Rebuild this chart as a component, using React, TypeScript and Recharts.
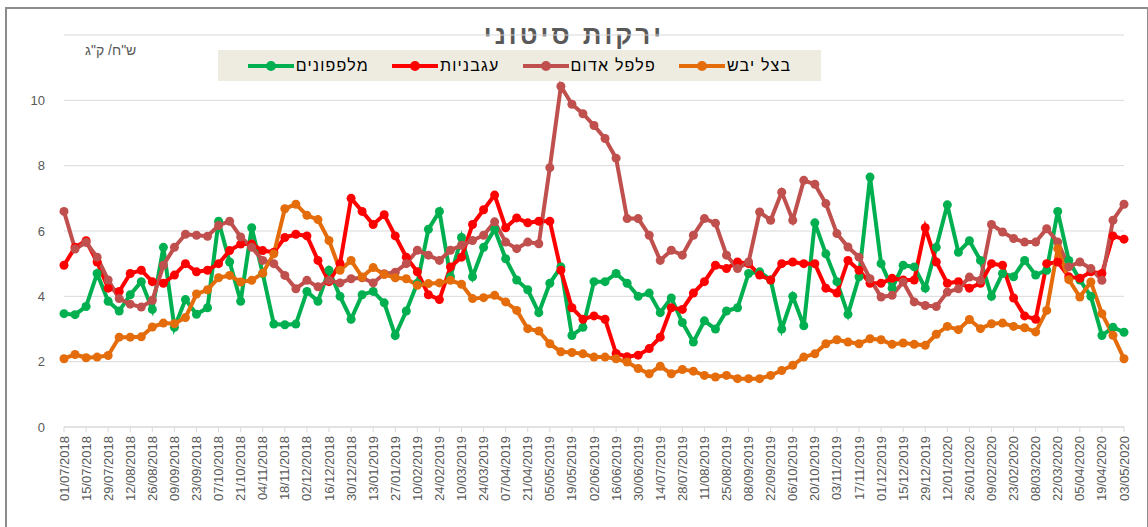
import { LineChart, Line, XAxis, YAxis, CartesianGrid } from 'recharts';

// weekly wholesale prices, NIS per kg
const weeks = [
  '01/07/2018', '08/07/2018', '15/07/2018', '22/07/2018', '29/07/2018', '05/08/2018', '12/08/2018', '19/08/2018',
  '26/08/2018', '02/09/2018', '09/09/2018', '16/09/2018', '23/09/2018', '30/09/2018', '07/10/2018', '14/10/2018',
  '21/10/2018', '28/10/2018', '04/11/2018', '11/11/2018', '18/11/2018', '25/11/2018', '02/12/2018', '09/12/2018',
  '16/12/2018', '23/12/2018', '30/12/2018', '06/01/2019', '13/01/2019', '20/01/2019', '27/01/2019', '03/02/2019',
  '10/02/2019', '17/02/2019', '24/02/2019', '03/03/2019', '10/03/2019', '17/03/2019', '24/03/2019', '31/03/2019',
  '07/04/2019', '14/04/2019', '21/04/2019', '28/04/2019', '05/05/2019', '12/05/2019', '19/05/2019', '26/05/2019',
  '02/06/2019', '09/06/2019', '16/06/2019', '23/06/2019', '30/06/2019', '07/07/2019', '14/07/2019', '21/07/2019',
  '28/07/2019', '04/08/2019', '11/08/2019', '18/08/2019', '25/08/2019', '01/09/2019', '08/09/2019', '15/09/2019',
  '22/09/2019', '29/09/2019', '06/10/2019', '13/10/2019', '20/10/2019', '27/10/2019', '03/11/2019', '10/11/2019',
  '17/11/2019', '24/11/2019', '01/12/2019', '08/12/2019', '15/12/2019', '22/12/2019', '29/12/2019', '05/01/2020',
  '12/01/2020', '19/01/2020', '26/01/2020', '02/02/2020', '09/02/2020', '16/02/2020', '23/02/2020', '01/03/2020',
  '08/03/2020', '15/03/2020', '22/03/2020', '29/03/2020', '05/04/2020', '12/04/2020', '19/04/2020', '26/04/2020',
  '03/05/2020',
];

const cucumbers = [
  3.47, 3.44, 3.69, 4.7, 3.85, 3.55, 4.05, 4.45, 3.6, 5.5,
  3.05, 3.9, 3.45, 3.65, 6.3, 5.05, 3.85, 6.1, 4.7, 3.15,
  3.13, 3.15, 4.15, 3.85, 4.8, 4.0, 3.3, 4.05, 4.15, 3.8,
  2.8, 3.55, 4.4, 6.05, 6.6, 4.6, 5.8, 4.6, 5.5, 6.05,
  5.15, 4.5, 4.2, 3.5, 4.4, 4.9, 2.8, 3.05, 4.45, 4.45,
  4.7, 4.4, 4.0, 4.1, 3.5, 3.95, 3.2, 2.6, 3.25, 3.0,
  3.55, 3.65, 4.7, 4.75, 4.5, 3.0, 4.0, 3.1, 6.25, 5.3,
  4.45, 3.45, 4.6, 7.65, 5.0, 4.25, 4.95, 4.9, 4.25, 5.5,
  6.8, 5.35, 5.7, 5.1, 4.0, 4.7, 4.6, 5.1, 4.65, 4.8,
  6.6, 5.1, 4.5, 4.0, 2.8, 3.05, 2.9,
];

const tomatoes = [
  4.95, 5.5, 5.7, 5.05, 4.25, 4.15, 4.7, 4.8, 4.45, 4.4,
  4.65, 5.0, 4.75, 4.8, 5.0, 5.4, 5.6, 5.6, 5.4, 5.35,
  5.8, 5.9, 5.85, 5.1, 4.45, 5.0, 7.0, 6.6, 6.2, 6.5,
  5.85, 5.2, 4.75, 4.05, 3.9, 4.9, 5.2, 6.2, 6.65, 7.1,
  6.1, 6.4, 6.25, 6.3, 6.3, 4.8, 3.65, 3.3, 3.4, 3.3,
  2.25, 2.15, 2.2, 2.4, 2.75, 3.65, 3.6, 4.1, 4.45, 4.95,
  4.85, 5.05, 5.0, 4.65, 4.5, 5.0, 5.05, 5.0, 5.0, 4.25,
  4.1, 5.1, 4.8, 4.4, 4.4, 4.55, 4.5, 4.5, 6.1, 5.05,
  4.4, 4.45, 4.25, 4.4, 5.0, 4.95, 3.95, 3.4, 3.3, 5.0,
  5.05, 4.6, 4.55, 4.75, 4.7, 5.85, 5.75,
];

const redPepper = [
  6.6, 5.45, 5.65, 5.2, 4.5, 3.93, 3.76, 3.67, 3.88, 4.95,
  5.5, 5.9, 5.87, 5.84, 6.17, 6.3, 5.82, 5.5, 5.1, 5.0,
  4.64, 4.23, 4.49, 4.29, 4.49, 4.41, 4.54, 4.57, 4.41, 4.69,
  4.74, 5.0, 5.41, 5.26, 5.1, 5.41, 5.56, 5.71, 5.87, 6.28,
  5.66, 5.46, 5.66, 5.61, 7.94, 10.43, 9.88, 9.59, 9.23, 8.83,
  8.23, 6.38, 6.38, 5.87, 5.1, 5.41, 5.26, 5.87, 6.38, 6.24,
  5.26, 4.85, 5.05, 6.58, 6.33, 7.19, 6.33, 7.55, 7.43, 6.84,
  5.92, 5.51, 5.2, 4.54, 3.98, 4.03, 4.44, 3.83, 3.72, 3.69,
  4.13, 4.23, 4.59, 4.49, 6.2, 5.97, 5.77, 5.66, 5.66, 6.07,
  5.66, 4.9, 5.05, 4.85, 4.49, 6.33, 6.82,
];

const dryOnion = [
  2.09, 2.22, 2.12, 2.14, 2.19, 2.75, 2.75, 2.76, 3.06, 3.18,
  3.16, 3.35, 4.07, 4.2, 4.57, 4.64, 4.44, 4.49, 4.71, 5.3,
  6.68, 6.82, 6.48, 6.35, 5.71, 4.8, 5.1, 4.59, 4.88, 4.67,
  4.57, 4.54, 4.34, 4.39, 4.41, 4.49, 4.37, 3.93, 3.96, 4.03,
  3.83, 3.57, 3.01, 2.94, 2.55, 2.3, 2.28, 2.24, 2.14, 2.14,
  2.09, 1.99, 1.79, 1.63, 1.86, 1.63, 1.76, 1.71, 1.58, 1.53,
  1.58, 1.48, 1.48, 1.48, 1.58, 1.73, 1.89, 2.14, 2.24, 2.55,
  2.67, 2.6, 2.55, 2.7, 2.67, 2.53, 2.57, 2.53, 2.5, 2.84,
  3.08, 2.98, 3.29, 3.01, 3.16, 3.18, 3.08, 3.04, 2.91, 3.57,
  5.46, 4.51, 3.98, 4.44, 3.47, 2.81, 2.09,
];

const yTicks = [0, 2, 4, 6, 8, 10];

const SERIES = [
  { key: 'cucumbers', name: 'מלפפונים', color: '#00B050' },
  { key: 'tomatoes', name: 'עגבניות', color: '#FF0000' },
  { key: 'redPepper', name: 'פלפל אדום', color: '#C0504D' },
  { key: 'dryOnion', name: 'בצל יבש', color: '#E46C0A' },
];

const data = weeks.map((week, i) => ({
  week,
  cucumbers: cucumbers[i],
  tomatoes: tomatoes[i],
  redPepper: redPepper[i],
  dryOnion: dryOnion[i],
}));

const FONT = '"Liberation Sans", Arial, sans-serif';
const GREY = '#595959';

function DateTick({ x, y, payload }: any) {
  return (
    <g transform={`translate(${x},${y})`}>
      <text x={-2} y={0} dy={4.5} transform="rotate(-90)" textAnchor="end" fill={GREY} fontSize={13} fontFamily={FONT}>
        {payload.value}
      </text>
    </g>
  );
}

function LegendBox() {
  return (
    <div
      style={{
        position: 'absolute', left: 218, top: 50, width: 603, height: 31,
        background: '#EEECE1', display: 'flex', alignItems: 'center', justifyContent: 'center',
        gap: 23, direction: 'ltr',
      }}
    >
      {SERIES.map((s) => (
        <div key={s.key} style={{ display: 'flex', alignItems: 'center' }}>
          <svg width={46} height={12}>
            <line x1={0} y1={6} x2={46} y2={6} stroke={s.color} strokeWidth={4} />
            <circle cx={23} cy={6} r={5} fill={s.color} />
          </svg>
          <span dir="rtl" style={{ marginLeft: 2, fontSize: 16, letterSpacing: 1.2, color: '#000', fontFamily: FONT }}>
            {s.name}
          </span>
        </div>
      ))}
    </div>
  );
}

export default function App() {
  return (
    <div style={{ position: 'fixed', left: 0, top: 0, width: 1148, height: 527, background: '#fff', fontFamily: FONT }}>
      <div style={{ position: 'absolute', left: 5, top: 7, width: 1140, height: 540, border: '2px solid #8C8C8C' }} />
      <div
        dir="rtl"
        style={{
          position: 'absolute', left: 0, top: 20, width: 1148, textAlign: 'center',
          fontSize: 26, fontWeight: 'bold', letterSpacing: 3, color: GREY,
        }}
      >
        ירקות סיטוני
      </div>
      <div dir="rtl" style={{ position: 'absolute', left: 85, top: 42, fontSize: 14, color: GREY }}>
        ש"ח/ ק"ג
      </div>
      <LegendBox />
      <div style={{ position: 'absolute', left: 0, top: 0 }}>
        {/* domain runs to 12 so the pepper spike above 10 is not clipped; gridlines stop at 10 */}
        <LineChart width={1148} height={527} data={data} margin={{ top: 35, right: 24, bottom: 10, left: 14 }}>
          <CartesianGrid vertical={false} stroke="#D9D9D9" />
          <XAxis
            dataKey="week"
            interval={1}
            height={90}
            tick={<DateTick />}
            tickSize={5}
            axisLine={{ stroke: '#D9D9D9' }}
            tickLine={{ stroke: '#D9D9D9' }}
          />
          <YAxis
            width={50}
            domain={[0, 12]}
            ticks={yTicks}
            axisLine={false}
            tickLine={false}
            tickSize={0}
            tickMargin={19}
            tick={{ fill: GREY, fontSize: 13, fontFamily: FONT }}
          />
          {SERIES.map((s) => (
            <Line
              key={s.key}
              type="linear"
              dataKey={s.key}
              name={s.name}
              stroke={s.color}
              strokeWidth={4}
              dot={{ r: 4.5, fill: s.color, stroke: s.color, strokeWidth: 0 }}
              activeDot={false}
              isAnimationActive={false}
            />
          ))}
        </LineChart>
      </div>
    </div>
  );
}
